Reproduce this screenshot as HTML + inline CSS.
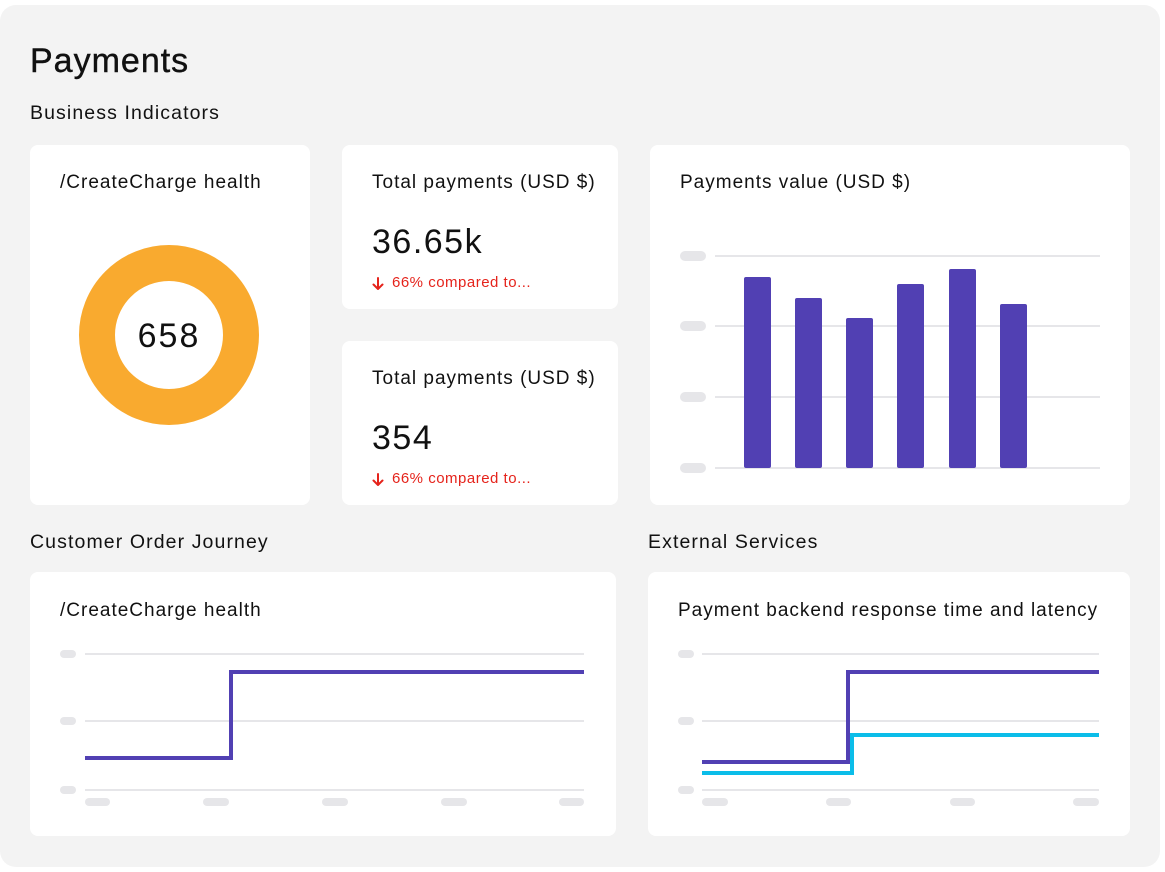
<!DOCTYPE html>
<html><head><style>
body{margin:0;width:1165px;height:872px;background:#fff;font-family:"Liberation Sans",sans-serif;position:relative;overflow:hidden;color:#111}
.bg{position:absolute;left:0;top:5px;width:1160px;height:862px;background:#f3f3f3;border-radius:16px}
.card{position:absolute;background:#fff;border-radius:8px}
.t{position:absolute;white-space:nowrap}
.h{font-size:19px;letter-spacing:1px}
.s{font-size:19.5px;letter-spacing:1.1px}
.r{font-size:15px;color:#e5231b;letter-spacing:0.5px}
</style></head><body>
<div class="bg"></div>
<div class="t" style="left:30px;top:42px;font-size:34px;letter-spacing:1px;-webkit-text-stroke:0.4px #111">Payments</div>
<div class="t s" style="left:30px;top:102px">Business Indicators</div>
<div class="t s" style="left:30px;top:531px">Customer Order Journey</div>
<div class="t s" style="left:648px;top:531px">External Services</div>

<div class="card" style="left:30px;top:145px;width:280px;height:360px"></div>
<div class="card" style="left:342px;top:145px;width:276px;height:164px"></div>
<div class="card" style="left:342px;top:341px;width:276px;height:164px"></div>
<div class="card" style="left:650px;top:145px;width:480px;height:360px"></div>
<div class="card" style="left:30px;top:572px;width:586px;height:264px"></div>
<div class="card" style="left:648px;top:572px;width:482px;height:264px"></div>

<div class="t h" style="left:60px;top:172px">/CreateCharge health</div>
<div class="t h" style="left:372px;top:172px">Total payments (USD $)</div>
<div class="t" style="left:372px;top:223px;font-size:34px;letter-spacing:1.5px">36.65k</div>
<div class="t r" style="left:392px;top:274px">66% compared to...</div>
<div class="t h" style="left:372px;top:368px">Total payments (USD $)</div>
<div class="t" style="left:372px;top:419px;font-size:34px;letter-spacing:1.5px">354</div>
<div class="t r" style="left:392px;top:470px">66% compared to...</div>
<div class="t h" style="left:680px;top:172px">Payments value (USD $)</div>
<div class="t h" style="left:60px;top:600px">/CreateCharge health</div>
<div class="t h" style="left:678px;top:600px">Payment backend response time and latency</div>

<svg width="1165" height="872" style="position:absolute;left:0;top:0">
<g fill="none" stroke="#e5231b" stroke-width="2" stroke-linecap="round" stroke-linejoin="round">
<path d="M378 278v11M373.5 284.5l4.5 4.5 4.5-4.5"/>
<path d="M378 474v11M373.5 480.5l4.5 4.5 4.5-4.5"/>
</g>
<circle cx="169" cy="335" r="72" fill="none" stroke="#f9aa2f" stroke-width="36"/>
<text x="169" y="347" font-size="34" letter-spacing="2" text-anchor="middle" font-family="Liberation Sans" fill="#111">658</text>
<g stroke="#e6e6e9" stroke-width="2">
<line x1="715" y1="256" x2="1100" y2="256"/><line x1="715" y1="326" x2="1100" y2="326"/><line x1="715" y1="397" x2="1100" y2="397"/><line x1="715" y1="468" x2="1100" y2="468"/>
<line x1="85" y1="654" x2="584" y2="654"/><line x1="85" y1="721" x2="584" y2="721"/><line x1="85" y1="790" x2="584" y2="790"/>
<line x1="702" y1="654" x2="1099" y2="654"/><line x1="702" y1="721" x2="1099" y2="721"/><line x1="702" y1="790" x2="1099" y2="790"/>
</g>
<g fill="#e6e6e9">
<rect x="680" y="251" width="26" height="10" rx="5"/><rect x="680" y="321" width="26" height="10" rx="5"/><rect x="680" y="392" width="26" height="10" rx="5"/><rect x="680" y="463" width="26" height="10" rx="5"/>
<rect x="60" y="650" width="16" height="8" rx="4"/><rect x="60" y="717" width="16" height="8" rx="4"/><rect x="60" y="786" width="16" height="8" rx="4"/>
<rect x="85" y="798" width="25" height="8" rx="4"/><rect x="203" y="798" width="26" height="8" rx="4"/><rect x="322" y="798" width="26" height="8" rx="4"/><rect x="441" y="798" width="26" height="8" rx="4"/><rect x="559" y="798" width="25" height="8" rx="4"/>
<rect x="678" y="650" width="16" height="8" rx="4"/><rect x="678" y="717" width="16" height="8" rx="4"/><rect x="678" y="786" width="16" height="8" rx="4"/>
<rect x="702" y="798" width="26" height="8" rx="4"/><rect x="826" y="798" width="25" height="8" rx="4"/><rect x="950" y="798" width="25" height="8" rx="4"/><rect x="1073" y="798" width="26" height="8" rx="4"/>
</g>
<g fill="#5140b3">
<rect x="744" y="277" width="27" height="191" rx="2"/><rect x="795" y="298" width="27" height="170" rx="2"/><rect x="846" y="318" width="27" height="150" rx="2"/><rect x="897" y="284" width="27" height="184" rx="2"/><rect x="949" y="269" width="27" height="199" rx="2"/><rect x="1000" y="304" width="27" height="164" rx="2"/>
</g>
<g fill="none" stroke-width="4">
<polyline points="85,758 231,758 231,672 584,672" stroke="#5140b3"/>
<polyline points="702,773 852,773 852,735 1099,735" stroke="#0bbde9"/>
<polyline points="702,762 848,762 848,672 1099,672" stroke="#5140b3"/>
</g>
</svg>
</body></html>
